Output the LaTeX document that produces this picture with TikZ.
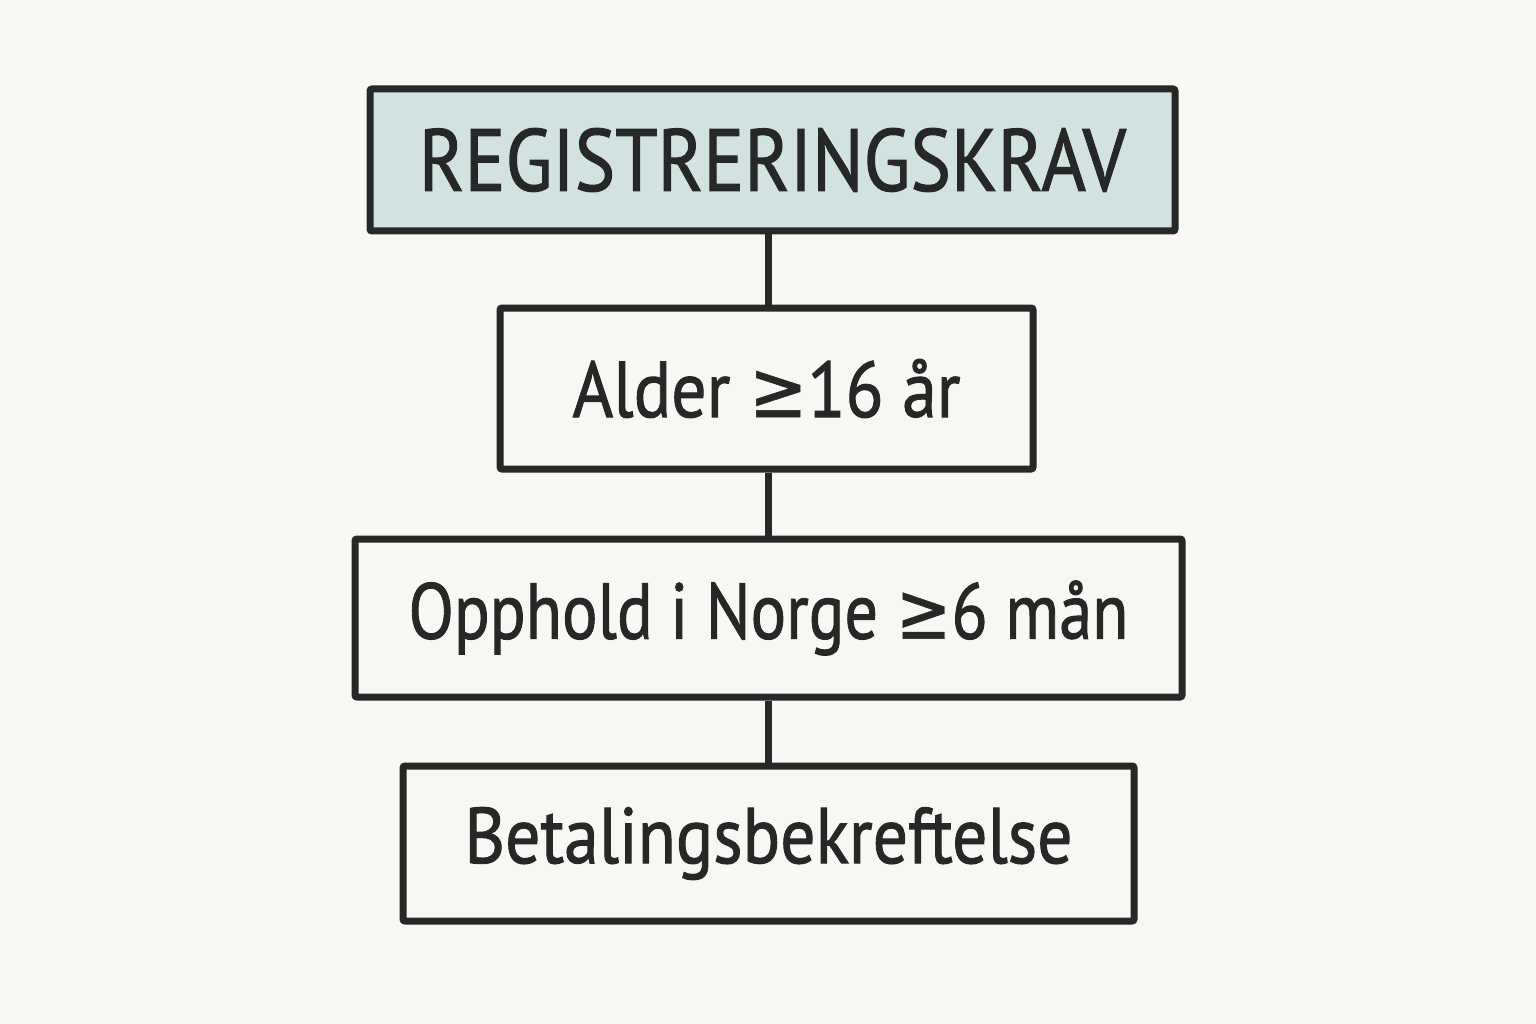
\documentclass[tikz,border=0pt]{standalone}
\usepackage{fontspec}
\usepackage{graphicx}
\setmainfont{PT Sans}[FakeBold=1.3]
\newfontfamily\symf{DejaVu Sans}[FakeBold=0.6]
\newcommand\fitw[2]{\resizebox{#1}{\height}{#2}}
\newcommand\gesym{{\symf ≥}}
\definecolor{bg}{HTML}{F8F7F3}
\definecolor{ink}{HTML}{262828}
\definecolor{head}{HTML}{D1E2E0}
\begin{document}
\begin{tikzpicture}[x=1pt,y=-1pt,
  box/.style={draw=ink, line width=7pt, fill=bg, rounded corners=2pt, text=ink, inner sep=0pt},
  conn/.style={draw=ink, line width=7pt}]
\fill[bg] (0,0) rectangle (1536,1024);
\useasboundingbox (0,0) rectangle (1536,1024);
\node[box, fill=head, minimum width=805pt, minimum height=142pt, font=\fontsize{88}{90}\selectfont] (b1) at (772.5,160) {\fitw{707pt}{REGISTRERINGSKRAV}};
\node[box, minimum width=533pt, minimum height=161pt, font=\fontsize{79}{90}\selectfont] (b2) at (766.5,388.5) {\fitw{388pt}{Alder \gesym16 år}};
\node[box, minimum width=827pt, minimum height=158pt, font=\fontsize{79}{90}\selectfont] (b3) at (768.5,618) {\fitw{720pt}{Opphold i Norge \gesym6 mån}};
\node[box, minimum width=731pt, minimum height=155pt, font=\fontsize{79}{90}\selectfont] (b4) at (768.5,843.5) {\fitw{608pt}{Betalingsbekreftelse}};
\draw[conn] (b3.north |- b1.south) -- (b3.north |- b2.north);
\draw[conn] (b3.north |- b2.south) -- (b3.north);
\draw[conn] (b3.south) -- (b3.south |- b4.north);
\end{tikzpicture}
\end{document}
